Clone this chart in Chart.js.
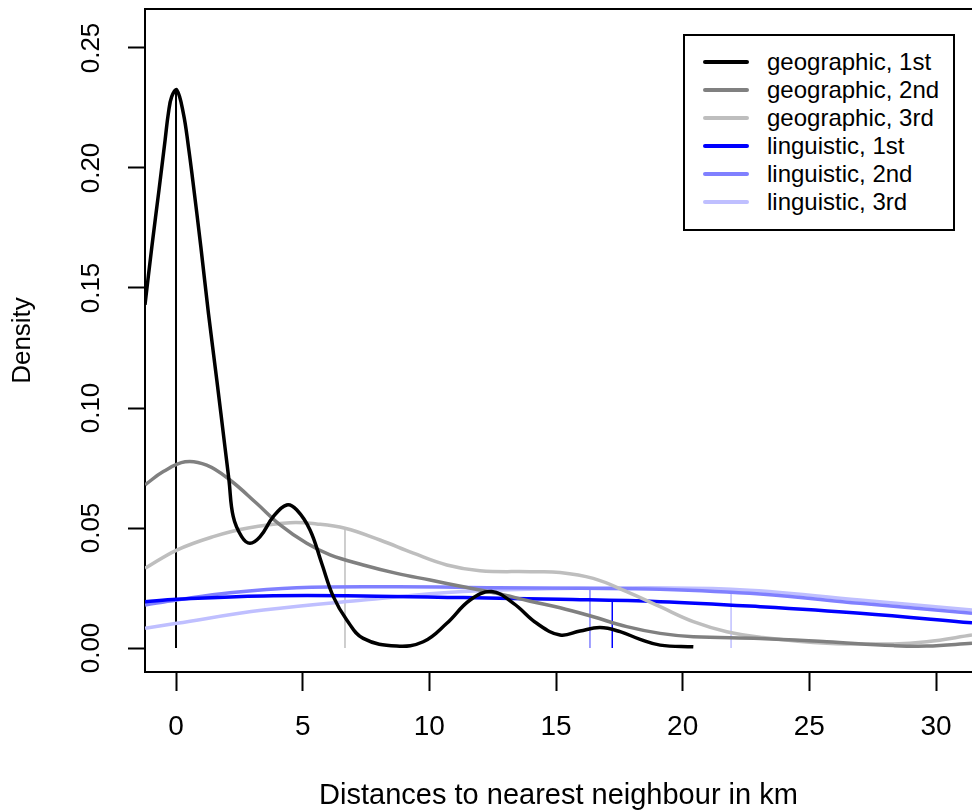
<!DOCTYPE html>
<html>
<head>
<meta charset="utf-8">
<script src="https://cdn.jsdelivr.net/npm/chart.js@4"></script>
<style>
  body { margin: 0; background: #fff; overflow: hidden; }
  #wrap { position: relative; width: 972px; height: 811px; }
  #legend {
    position: absolute; left: 683px; top: 34px; width: 272px; height: 197px;
    box-sizing: border-box; border: 2px solid #000; background: #fff;
    padding-top: 12px; font-family: "Liberation Sans", Arial, sans-serif; font-size: 24px; color: #000;
  }
  .row { position: relative; height: 28px; }
  .row .swatch { position: absolute; left: 18px; top: 12px; width: 46px; height: 4px; border-radius: 2px; }
  .row .lbl { position: absolute; left: 82px; top: 0; line-height: 28px; white-space: nowrap; }
</style>
</head>
<body>
<div id="wrap">
  <canvas id="c" width="972" height="811"></canvas>
  <div id="legend"></div>
</div>
<script>
// --- DATA ---
const xTicks = [0, 5, 10, 15, 20, 25, 30];
const yTicks = [0, 0.05, 0.10, 0.15, 0.20, 0.25];

const seriesNames = ['geographic, 1st', 'geographic, 2nd', 'geographic, 3rd', 'linguistic, 1st', 'linguistic, 2nd', 'linguistic, 3rd'];
const seriesColors = ['#000000', '#808080', '#bebebe', '#0000ff', '#8080ff', '#bfbfff'];

// geographic, 1st
const geo1X = [-1.224, -0.95, -0.67, -0.43, -0.30, -0.17, 0.03, 0.29, 0.49, 0.66, 0.98, 1.28, 1.61, 1.93, 2.09, 2.26, 2.59, 2.92, 3.32, 3.84, 4.37, 4.77, 5.29, 5.75, 6.21, 6.74, 7.39, 8.71, 9.76, 10.69, 11.61, 12.46, 13.32, 14.24, 15.16, 15.95, 16.74, 17.53, 18.32, 19.11, 20.42];
const geo1Y = [0.143, 0.1675, 0.191, 0.2117, 0.2229, 0.2297, 0.2325, 0.2228, 0.2089, 0.195, 0.1672, 0.1395, 0.1117, 0.0839, 0.070, 0.0547, 0.0464, 0.0436, 0.0464, 0.0547, 0.0596, 0.0575, 0.0492, 0.0353, 0.0214, 0.0117, 0.0040, 0.0008, 0.0026, 0.0103, 0.020, 0.0235, 0.0186, 0.0103, 0.0054, 0.0071, 0.0085, 0.0068, 0.0036, 0.0012, 0.0005];
// geographic, 2nd
const geo2X = [-1.22, -0.50, 0.36, 1.21, 2.13, 3.18, 4.11, 5.16, 6.08, 7.39, 8.71, 10.03, 11.34, 12.66, 13.98, 15.16, 16.47, 17.79, 19.11, 20.42, 23.06, 25.69, 28.32, 29.63, 31.42];
const geo2Y = [0.068, 0.0735, 0.0776, 0.0762, 0.070, 0.0603, 0.0513, 0.0436, 0.0388, 0.0346, 0.0311, 0.0283, 0.0255, 0.0228, 0.0195, 0.0168, 0.0130, 0.0089, 0.0061, 0.0047, 0.0040, 0.0026, 0.0010, 0.0008, 0.0020];
// geographic, 3rd
const geo3X = [-1.22, 0.03, 1.47, 2.79, 4.50, 5.55, 6.67, 8.05, 9.37, 10.69, 12.0, 13.98, 15.16, 16.47, 17.79, 19.11, 20.42, 21.74, 23.06, 25.69, 28.32, 29.63, 31.42];
const geo3Y = [0.0332, 0.0408, 0.0464, 0.0499, 0.0522, 0.0517, 0.0499, 0.045, 0.0395, 0.0346, 0.0322, 0.0318, 0.0315, 0.029, 0.0235, 0.0172, 0.011, 0.0068, 0.0045, 0.002, 0.0017, 0.0026, 0.0054];
// linguistic, 1st
const ling1X = [-1.22, 0.03, 3.45, 7.39, 11.34, 15.16, 19.11, 23.06, 27.0, 31.42];
const ling1Y = [0.0193, 0.0203, 0.0217, 0.0217, 0.021, 0.0203, 0.0193, 0.0172, 0.0145, 0.0105];
// linguistic, 2nd
const ling2X = [-1.22, 0.03, 2.13, 4.76, 8.71, 12.66, 15.95, 19.11, 23.06, 27.0, 31.42];
const ling2Y = [0.0179, 0.020, 0.023, 0.0251, 0.0255, 0.0251, 0.0249, 0.0245, 0.0225, 0.0186, 0.0145];
// linguistic, 3rd
const ling3X = [-1.22, 0.03, 3.45, 7.39, 11.34, 15.95, 21.91, 27.0, 31.42];
const ling3Y = [0.0082, 0.0103, 0.0158, 0.020, 0.0235, 0.0249, 0.0245, 0.020, 0.0158];

// vertical marker lines (position, height)
const markX = [0, 6.67, 16.34, 17.22, 21.91];
const markTop = [0.2325, 0.0499, 0.0249, 0.0203, 0.0245];
const markColors = ['#000000', '#bebebe', '#8080ff', '#0000ff', '#bfbfff'];

// --- CHART ---
const pts = (xs, ys) => xs.map((x, i) => ({ x: x, y: ys[i] }));
const curveX = [geo1X, geo2X, geo3X, ling1X, ling2X, ling3X];
const curveY = [geo1Y, geo2Y, geo3Y, ling1Y, ling2Y, ling3Y];

const datasets = seriesNames.map((name, i) => ({
  label: name,
  data: pts(curveX[i], curveY[i]),
  borderColor: seriesColors[i],
  borderWidth: 3.5,
  pointRadius: 0,
  tension: 0.4,
  fill: false
}));

markX.forEach((x, i) => {
  datasets.push({
    label: 'mark' + i,
    data: [{ x: x, y: 0 }, { x: x, y: markTop[i] }],
    borderColor: markColors[i],
    borderWidth: i === 0 ? 2 : 1.5,
    pointRadius: 0,
    tension: 0
  });
});

// top edge of the box (bottom and left come from the axes)
const frameTop = {
  id: 'frameTop',
  afterDraw(chart) {
    const { ctx, chartArea } = chart;
    ctx.save();
    ctx.strokeStyle = '#000';
    ctx.lineWidth = 2;
    ctx.beginPath();
    ctx.moveTo(chartArea.left - 1, chartArea.top);
    ctx.lineTo(chart.width, chartArea.top);
    ctx.stroke();
    ctx.restore();
  }
};

const font = '"Liberation Sans", Arial, sans-serif';

new Chart(document.getElementById('c'), {
  type: 'line',
  data: { datasets },
  plugins: [frameTop],
  options: {
    responsive: false,
    animation: false,
    devicePixelRatio: 1,
    layout: { padding: { top: 9, left: 0, right: 0, bottom: 0 } },
    plugins: { legend: { display: false }, tooltip: { enabled: false } },
    scales: {
      x: {
        type: 'linear',
        min: -1.224,
        max: 31.42,
        afterBuildTicks: s => { s.ticks = xTicks.map(v => ({ value: v })); },
        afterFit: s => { s.height = 139; s.paddingLeft = 0; s.paddingRight = 0; },
        border: { display: true, color: '#000', width: 2 },
        grid: { drawOnChartArea: false, drawTicks: true, tickLength: 19, tickColor: '#000', tickWidth: 2 },
        ticks: { color: '#000', font: { family: font, size: 28 }, padding: 19, maxRotation: 0, autoSkip: false },
        title: { display: true, text: 'Distances to nearest neighbour in km', color: '#000',
                 font: { family: font, size: 29, lineHeight: 1 }, padding: { top: 0, bottom: 1 } }
      },
      y: {
        type: 'linear',
        min: -0.01,
        max: 0.26625,
        afterBuildTicks: s => { s.ticks = yTicks.map(v => ({ value: v })); },
        afterFit: s => { s.width = 145; s.paddingTop = 0; s.paddingBottom = 0; },
        border: { display: true, color: '#000', width: 2 },
        grid: { drawOnChartArea: false, drawTicks: true, tickLength: 17, tickColor: '#000', tickWidth: 2 },
        ticks: { color: '#000', font: { family: font, size: 26 }, padding: 11, minRotation: 90, maxRotation: 90,
                 crossAlign: 'center', autoSkip: false, callback: v => v.toFixed(2) },
        title: { display: true, text: 'Density', color: '#000',
                 font: { family: font, size: 26 }, padding: { top: 7, bottom: 0 } }
      }
    }
  }
});

// legend
document.getElementById('legend').innerHTML = seriesNames.map((n, i) =>
  `<div class="row"><span class="swatch" style="background:${seriesColors[i]}"></span><span class="lbl">${n}</span></div>`
).join('');
</script>
</body>
</html>
